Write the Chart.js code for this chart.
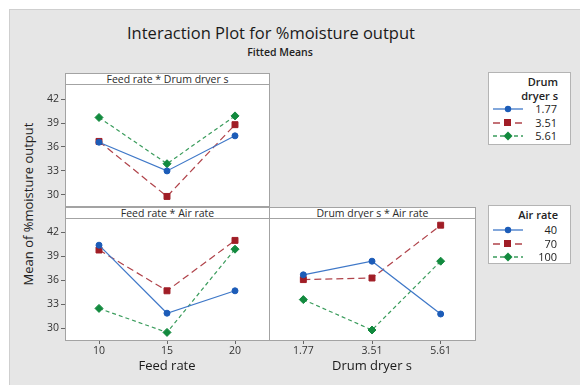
<!DOCTYPE html>
<html lang="en">
<head>
<meta charset="UTF-8">
<title>Interaction Plot for %moisture output</title>
<script src="https://cdn.jsdelivr.net/npm/chart.js"></script>
<style>
    body {
        margin: 0;
        width: 580px;
        height: 385px;
        background: #ffffff;
        font-family: 'Open Sans', sans-serif;
        color: #222;
        overflow: hidden;
        position: relative;
    }
    #fig {
        position: absolute;
        left: 9px;
        top: 9px;
        width: 571px;
        height: 376px;
        background: #e6e6e6;
        border-left: 1px solid #cfcfcf;
        border-top: 1px solid #cfcfcf;
        box-sizing: border-box;
    }
    .abs { position: absolute; }
    .title {
        left: 0; width: 542px; text-align: center;
        top: 22px; font-size: 16.5px; line-height: 22px; color: #1a1a1a;
    }
    .subtitle {
        left: 0; width: 560px; text-align: center;
        top: 44px; font-size: 10.5px; line-height: 16px; font-weight: 600; color: #222;
    }
    .ytitle {
        left: 28px; top: 204px; width: 200px; margin-left: -100px; margin-top: -9px;
        height: 18px; line-height: 18px; text-align: center;
        font-size: 13px; color: #222;
        transform: rotate(-90deg);
    }
    .strip {
        background: #fff;
        border: 1px solid #a3a3a3;
        box-sizing: border-box;
        height: 12px;
        font-size: 10.5px;
        line-height: 10px;
        text-align: center;
        color: #2a2a2a;
    }
    .legend {
        background: #fff;
        border: 1px solid #b4b4b4;
        box-sizing: border-box;
    }
    .legend .row {
        position: absolute;
        left: 0; right: 13px;
        height: 14px; line-height: 14px;
        text-align: right;
        font-size: 11px;
        color: #222;
    }
    .legend .head { font-weight: 600; right: 12px; }
    .legend svg { position: absolute; left: 3px; top: 0; }
    canvas { position: absolute; }
</style>
</head>
<body>
<div id="fig"></div>

<div class="abs title">Interaction Plot for %moisture output</div>
<div class="abs subtitle">Fitted Means</div>
<div class="abs ytitle">Mean of %moisture output</div>

<div class="abs strip" style="left:65px; top:73px; width:205px;">Feed rate * Drum dryer s</div>
<div class="abs strip" style="left:65px; top:207px; width:205px;">Feed rate * Air rate</div>
<div class="abs strip" style="left:269px; top:207px; width:207px;">Drum dryer s * Air rate</div>

<canvas id="c1" width="240" height="123" style="left:30px; top:84px;"></canvas>
<canvas id="c2" width="240" height="158" style="left:30px; top:218px;"></canvas>
<canvas id="c3" width="207" height="158" style="left:269px; top:218px;"></canvas>

<div class="abs legend" id="leg1" style="left:488px; top:72px; width:83px; height:73px;"></div>
<div class="abs legend" id="leg2" style="left:488px; top:205px; width:83px; height:59px;"></div>

<script>
    // categories
    const feedRates = ['10', '15', '20'];
    const drumDryers = ['1.77', '3.51', '5.61'];
    const airRates = ['40', '70', '100'];
    const yTicks = [30, 33, 36, 39, 42];

    // Feed rate * Drum dryer s  (one array per drum dryer level)
    const fdDrum177 = [36.6, 33.0, 37.4];
    const fdDrum351 = [36.7, 29.8, 38.8];
    const fdDrum561 = [39.7, 33.9, 39.9];

    // Feed rate * Air rate
    const faAir40 = [40.4, 31.9, 34.7];
    const faAir70 = [39.8, 34.7, 41.0];
    const faAir100 = [32.5, 29.5, 39.9];

    // Drum dryer s * Air rate
    const daAir40 = [36.7, 38.4, 31.8];
    const daAir70 = [36.1, 36.3, 42.9];
    const daAir100 = [33.6, 29.8, 38.4];

    const styles = [
        { color: '#1c5cb8', line: '#3f78c8', dash: [], point: 'circle', radius: 3 },
        { color: '#a01d26', line: '#b0434a', dash: [7, 4], point: 'rect', radius: 4.2 },
        { color: '#128a3e', line: '#3a9c5c', dash: [4, 3], point: 'rectRot', radius: 4 }
    ];

    Chart.defaults.font.family = "'Open Sans', sans-serif";

    // white plot area + grey frame
    const frame = {
        id: 'frame',
        beforeDraw(chart) {
            const { ctx, chartArea: a } = chart;
            ctx.save();
            ctx.fillStyle = '#ffffff';
            ctx.fillRect(a.left, a.top, a.right - a.left, a.bottom - a.top);
            ctx.restore();
        },
        afterDraw(chart) {
            const { ctx, chartArea: a } = chart;
            ctx.save();
            ctx.strokeStyle = '#a3a3a3';
            ctx.lineWidth = 1;
            ctx.strokeRect(a.left + 0.5, a.top + 0.5, a.right - a.left, a.bottom - a.top);
            ctx.restore();
        }
    };

    function makePanel(id, labels, series, opt) {
        const showX = !!opt.xTitle;
        return new Chart(document.getElementById(id), {
            type: 'line',
            data: {
                labels: labels,
                datasets: series.map((data, i) => ({
                    data: data,
                    borderColor: styles[i].line,
                    backgroundColor: styles[i].color,
                    pointBorderColor: styles[i].color,
                    borderWidth: 1.2,
                    borderDash: styles[i].dash,
                    pointStyle: styles[i].point,
                    pointRadius: styles[i].radius,
                    pointBorderWidth: 1,
                    tension: 0
                }))
            },
            options: {
                responsive: false,
                animation: false,
                events: [],
                layout: {
                    autoPadding: false,
                    padding: { top: 0, left: 0, right: 1, bottom: showX ? 0 : 1 }
                },
                plugins: {
                    legend: { display: false },
                    tooltip: { enabled: false }
                },
                scales: {
                    x: {
                        display: showX,
                        offset: true,
                        grid: { display: true, drawOnChartArea: false, offset: false, tickLength: 4, tickColor: '#666' },
                        border: { display: false },
                        ticks: { color: '#333', font: { size: 10.5 }, padding: 1, maxRotation: 0 },
                        title: {
                            display: showX,
                            text: opt.xTitle,
                            color: '#1a1a1a',
                            font: { size: 13 },
                            padding: { top: 0, bottom: 2 }
                        },
                        afterFit(s) {
                            s.height = showX ? 36 : 0;
                            s.paddingLeft = 0;
                            s.paddingRight = 0;
                        }
                    },
                    y: {
                        display: opt.showY,
                        min: opt.yMin,
                        max: opt.yMax,
                        grid: { display: true, drawOnChartArea: false, tickLength: 4, tickColor: '#666' },
                        border: { display: false },
                        ticks: { color: '#333', font: { size: 10.5 }, padding: 2 },
                        afterBuildTicks(s) { s.ticks = yTicks.map(v => ({ value: v })); },
                        afterFit(s) {
                            s.width = opt.showY ? 35 : 0;
                            s.paddingTop = 0;
                            s.paddingBottom = 0;
                        }
                    }
                }
            },
            plugins: [frame]
        });
    }

    makePanel('c1', feedRates, [fdDrum177, fdDrum351, fdDrum561],
        { showY: true, yMin: 28.6, yMax: 43.9 });
    makePanel('c2', feedRates, [faAir40, faAir70, faAir100],
        { showY: true, yMin: 28.55, yMax: 43.8, xTitle: 'Feed rate' });
    makePanel('c3', drumDryers, [daAir40, daAir70, daAir100],
        { showY: false, yMin: 28.55, yMax: 43.8, xTitle: 'Drum dryer s' });

    // legends
    function sample(s) {
        let mark;
        if (s.point === 'circle') {
            mark = `<circle cx="16" cy="7" r="3.2" fill="${s.color}"/>`;
        } else if (s.point === 'rect') {
            mark = `<rect x="12" y="3" width="7" height="7" fill="${s.color}"/>`;
        } else {
            mark = `<polygon points="16,2.5 20.5,7 16,11.5 11.5,7" fill="${s.color}"/>`;
        }
        const dash = s.dash.length ? `stroke-dasharray="${s.dash.join(',')}"` : '';
        return `<svg width="34" height="14"><line x1="1" y1="7" x2="31" y2="7" stroke="${s.line}" stroke-width="1.3" ${dash}/>${mark}</svg>`;
    }

    function buildLegend(id, heads, labels, firstRow) {
        const box = document.getElementById(id);
        let html = '';
        heads.forEach((h, i) => {
            html += `<div class="row head" style="top:${2 + i * 14}px">${h}</div>`;
        });
        labels.forEach((lab, i) => {
            const top = firstRow + i * 13.5;
            html += `<div class="row" style="top:${top}px">${sample(styles[i])}${lab}</div>`;
        });
        box.innerHTML = html;
    }

    buildLegend('leg1', ['Drum', 'dryer s'], drumDryers, 29);
    buildLegend('leg2', ['Air rate'], airRates, 17);
</script>
</body>
</html>
